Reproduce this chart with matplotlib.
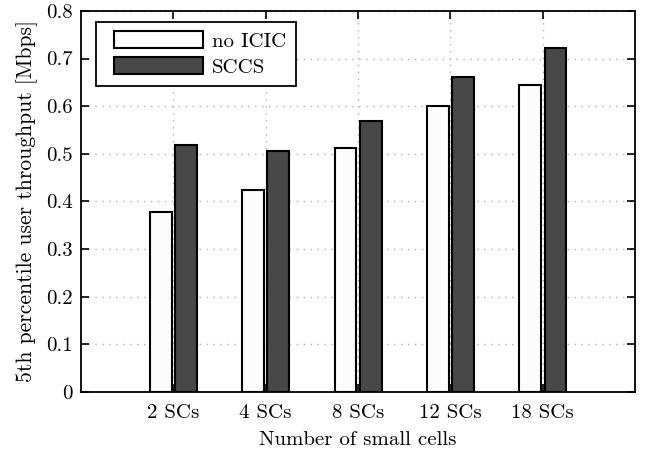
import numpy as np
from matplotlib import pyplot as plt
from matplotlib.patches import Patch, Rectangle
from matplotlib.legend_handler import HandlerPatch

plt.rcParams["font.family"] = "serif"
plt.rcParams["font.serif"] = ["cmr10", "DejaVu Serif"]
plt.rcParams["mathtext.fontset"] = "cm"
plt.rcParams["axes.formatter.use_mathtext"] = True

categories = ["2 SCs", "4 SCs", "8 SCs", "12 SCs", "18 SCs"]
no_icic = [0.377, 0.425, 0.513, 0.601, 0.645]
sccs = [0.519, 0.505, 0.568, 0.662, 0.722]

fig = plt.figure(figsize=(6.45, 4.57), dpi=100)
ax = fig.add_axes([0.1256, 0.1422, 0.859, 0.834])

x = np.arange(1, len(categories) + 1)
w = 0.235
ax.bar(x - 0.137, no_icic, w, color="#fcfcfc", edgecolor="black", linewidth=1.5, zorder=3)
ax.bar(x + 0.137, sccs, w, color="#484848", edgecolor="black", linewidth=1.5, zorder=3)

fs = 15
ax.set_xlim(0, 6)
ax.set_ylim(0, 0.8)
ax.set_xticks(x)
ax.set_xticklabels(categories, fontsize=fs)
ax.set_yticks(np.arange(0, 0.81, 0.1))
ax.set_yticklabels(["0", "0.1", "0.2", "0.3", "0.4", "0.5", "0.6", "0.7", "0.8"], fontsize=fs)
ax.tick_params(direction="in", top=True, right=True, length=6, width=1.2, pad=6)
ax.tick_params(axis="x", pad=9)
ax.grid(True, linestyle=(0, (1, 4)), color="#b0b0b0", linewidth=1, zorder=0)
for s in ax.spines.values():
    s.set_linewidth(1.3)

ax.set_xlabel("Number of small cells", fontsize=fs, labelpad=6)
ax.set_ylabel("5th percentile user throughput [Mbps]", fontsize=fs + 0.5, labelpad=6)


# leave a bit of room left of each legend patch
def shifted_patch(legend, orig_handle, xdescent, ydescent, width, height, fontsize):
    off = 6
    return Rectangle((-xdescent + off, -ydescent), width - off, height)


handles = [Patch(facecolor="#fcfcfc", edgecolor="black", linewidth=1.5),
           Patch(facecolor="#484848", edgecolor="black", linewidth=1.5)]
leg = ax.legend(handles, ["no ICIC", "SCCS"], loc="upper left", fontsize=fs,
                handlelength=4.7, handleheight=0.9, handletextpad=0.43,
                labelspacing=0.3, fancybox=False, framealpha=1,
                edgecolor="black", bbox_to_anchor=(0.027, 0.972), borderaxespad=0,
                borderpad=0.45,
                handler_map={Patch: HandlerPatch(patch_func=shifted_patch)})
leg.get_frame().set_linewidth(1.3)

plt.savefig("out.png", dpi=100)
